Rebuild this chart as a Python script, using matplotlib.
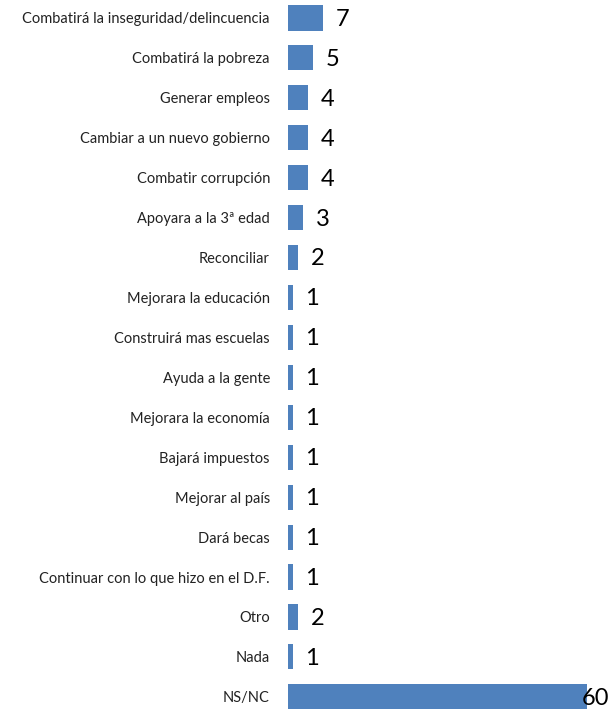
import matplotlib
matplotlib.use("Agg")
import matplotlib.pyplot as plt

# === Données ===
categorias = [
    "Combatirá la inseguridad/delincuencia",
    "Combatirá la pobreza",
    "Generar empleos",
    "Cambiar a un nuevo gobierno",
    "Combatir corrupción",
    "Apoyara a la 3ª edad",
    "Reconciliar",
    "Mejorara la educación",
    "Construirá mas escuelas",
    "Ayuda a la gente",
    "Mejorara la economía",
    "Bajará impuestos",
    "Mejorar al país",
    "Dará becas",
    "Continuar con lo que hizo en el D.F.",
    "Otro",
    "Nada",
    "NS/NC",
]
valores = [7, 5, 4, 4, 4, 3, 2, 1, 1, 1, 1, 1, 1, 1, 1, 2, 1, 60]

plt.rcParams['font.family'] = ['Lato', 'DejaVu Sans']

fig = plt.figure(figsize=(6.16, 7.10), dpi=100)
ax = fig.add_axes([288 / 616, 0.0, 324 / 616, 1.0])

pos = list(range(len(categorias)))
ax.barh(pos, valores, height=0.63, color='#4F81BD')

ax.set_xlim(0, 65)
ax.set_ylim(17.33, -0.45)
ax.set_yticks(pos)
ax.set_yticklabels(categorias, fontsize=10.5, color='#222222')
ax.tick_params(axis='y', length=0, pad=13)
ax.set_xticks([])
for s in ax.spines.values():
    s.set_visible(False)

# Étiquettes de valeur
vmax = max(valores)
for i, v in enumerate(valores):
    if v == vmax:
        ax.annotate(str(v), (v, i), xytext=(6, -1), textcoords='offset points',
                    ha='center', va='center', fontsize=17, color='black')
    else:
        ax.annotate(str(v), (v, i), xytext=(9, -1), textcoords='offset points',
                    ha='left', va='center', fontsize=17, color='black')

fig.savefig("out.png", dpi=100)
